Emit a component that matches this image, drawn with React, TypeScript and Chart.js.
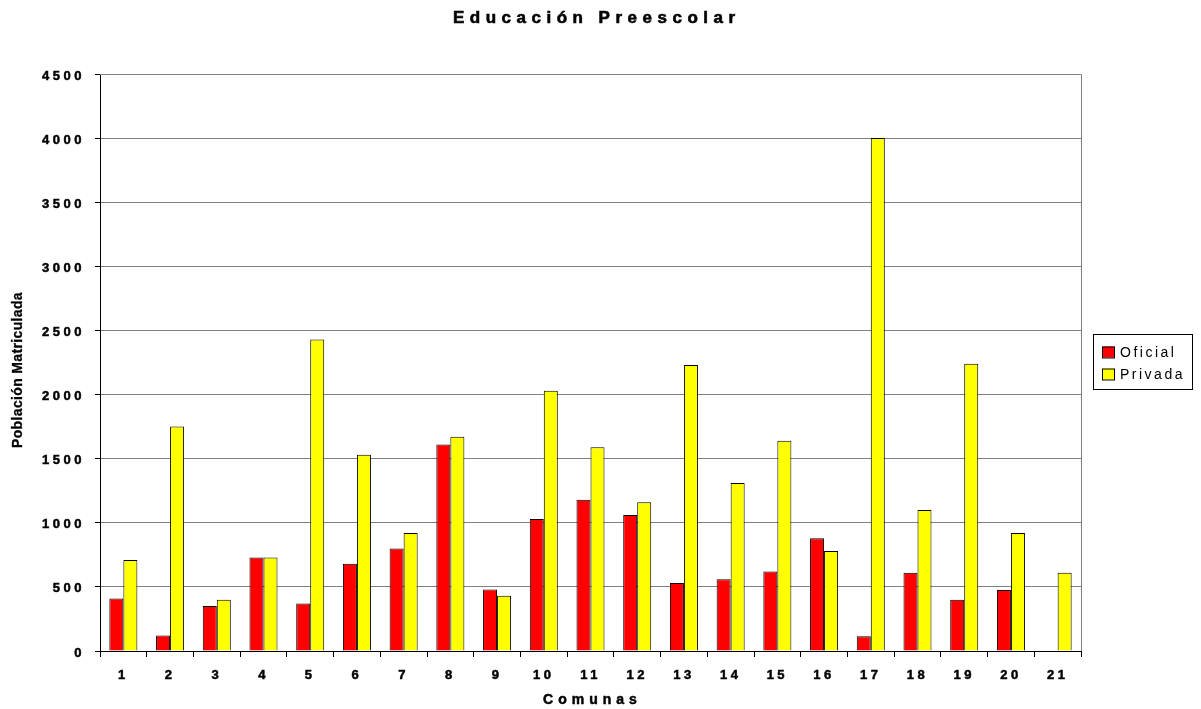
import React, { useEffect, useRef } from "react";
import { Chart, registerables } from "chart.js";

Chart.register(...registerables);

const categories = ["1","2","3","4","5","6","7","8","9","10","11","12","13","14","15","16","17","18","19","20","21"];
const oficial = [410,120,350,730,370,680,800,1610,480,1030,1180,1060,530,560,620,880,115,610,400,475,0];
const privada = [710,1750,400,730,2430,1530,920,1670,430,2030,1590,1160,2230,1310,1640,780,4000,1100,2240,920,610];
const seriesLabels = ["Oficial", "Privada"];
const yTicks = [0,500,1000,1500,2000,2500,3000,3500,4000,4500];
const chartTitle = "Educación Preescolar";
const xTitle = "Comunas";
const yTitle = "Población Matriculada";

const W = 1201;
const H = 709;
const FONT = "'Liberation Sans', Arial, sans-serif";

function heavyText(ctx: any, text: string, x: number, y: number, sw: number) {
  ctx.fillText(text, x, y);
  if (sw > 0) {
    ctx.lineWidth = sw;
    ctx.strokeStyle = ctx.fillStyle;
    ctx.strokeText(text, x, y);
  }
}

const decorPlugin = {
  id: "decor",
  beforeDraw(chart: any) {
    chart.ctx.letterSpacing = "3.5px";
  },
  beforeDatasetsDraw(chart: any) {
    const { ctx, chartArea } = chart;
    ctx.save();
    ctx.strokeStyle = "#808080";
    ctx.lineWidth = 1;
    ctx.beginPath();
    ctx.moveTo(chartArea.left, chartArea.top + 0.5);
    ctx.lineTo(chartArea.right + 0.5, chartArea.top + 0.5);
    ctx.lineTo(chartArea.right + 0.5, chartArea.bottom);
    ctx.stroke();
    ctx.restore();
  },
  afterDraw(chart: any) {
    const { ctx } = chart;
    ctx.save();
    ctx.fillStyle = "#000";
    // title
    ctx.letterSpacing = "5.5px";
    ctx.font = `bold 17px ${FONT}`;
    ctx.textAlign = "center";
    ctx.textBaseline = "middle";
    heavyText(ctx, chartTitle, 594 + 2.75, 18.5, 0.6);
    // x title
    ctx.letterSpacing = "5px";
    ctx.font = `bold 14px ${FONT}`;
    heavyText(ctx, xTitle, 590 + 2.5, 700, 0.5);
    // y title
    ctx.letterSpacing = "0.35px";
    ctx.font = `bold 14px ${FONT}`;
    ctx.save();
    ctx.translate(18.5, 370);
    ctx.rotate(-Math.PI / 2);
    heavyText(ctx, yTitle, 0, 0, 0.3);
    ctx.restore();
    // legend
    const lx = 1093, ly = 334, lw = 99, lh = 55;
    ctx.strokeStyle = "#000";
    ctx.lineWidth = 1;
    ctx.strokeRect(lx + 0.5, ly + 0.5, lw, lh);
    ctx.font = `14px ${FONT}`;
    ctx.letterSpacing = "2.5px";
    ctx.textAlign = "left";
    chart.data.datasets.forEach((ds: any, i: number) => {
      const cy = 352.5 + i * 22;
      ctx.fillStyle = ds.backgroundColor;
      ctx.fillRect(1102.5, cy - 6, 12, 11);
      ctx.strokeStyle = "#000";
      ctx.lineWidth = 1;
      ctx.strokeRect(1102.5, cy - 6 + 0.5, 12, 11);
      ctx.fillStyle = "#000";
      ctx.fillText(ds.label, 1120, cy + 1);
    });
    ctx.restore();
  },
};

export default function App() {
  const ref = useRef<HTMLCanvasElement>(null);
  useEffect(() => {
    const canvas = ref.current;
    if (!canvas) return;
    const chart = new Chart(canvas, {
      type: "bar",
      data: {
        labels: categories,
        datasets: [
          { label: seriesLabels[0], data: oficial, backgroundColor: "#FF0000", borderColor: "#000", borderWidth: 1 },
          { label: seriesLabels[1], data: privada, backgroundColor: "#FFFF00", borderColor: "#000", borderWidth: 1 },
        ],
      },
      options: {
        responsive: false,
        animation: false,
        layout: { padding: { left: 0, top: 74, right: 120, bottom: 0 } },
        datasets: { bar: { categoryPercentage: 0.6, barPercentage: 1 } },
        plugins: { legend: { display: false }, title: { display: false }, tooltip: { enabled: false } },
        scales: {
          x: {
            afterFit: (s: any) => { s.height = 58; },
            grid: { display: true, drawOnChartArea: false, offset: true, tickLength: 6, tickColor: "#000", color: "#000" },
            border: { color: "#000", width: 1 },
            ticks: {
              color: "#000",
              font: { family: FONT, size: 13, weight: "bold" },
              padding: 11,
              maxRotation: 0,
              autoSkip: false,
              textStrokeColor: "#000",
              textStrokeWidth: 0.5,
            },
          },
          y: {
            min: 0,
            max: 4500,
            afterFit: (s: any) => { s.width = 100; },
            afterBuildTicks: (s: any) => { s.ticks = yTicks.map((v) => ({ value: v })); },
            grid: { color: "#808080", tickColor: "#000", tickLength: 5, lineWidth: 1 },
            border: { color: "#000", width: 1 },
            ticks: {
              color: "#000",
              font: { family: FONT, size: 13, weight: "bold" },
              padding: 10,
              labelOffset: 2,
              textStrokeColor: "#000",
              textStrokeWidth: 0.5,
              callback: (v: any) => String(v),
            },
          },
        },
      },
      plugins: [decorPlugin],
    });
    return () => chart.destroy();
  }, []);
  return (
    <div style={{ position: "fixed", left: 0, top: 0, width: W, height: H, background: "#fff" }}>
      <canvas ref={ref} width={W} height={H} />
    </div>
  );
}
